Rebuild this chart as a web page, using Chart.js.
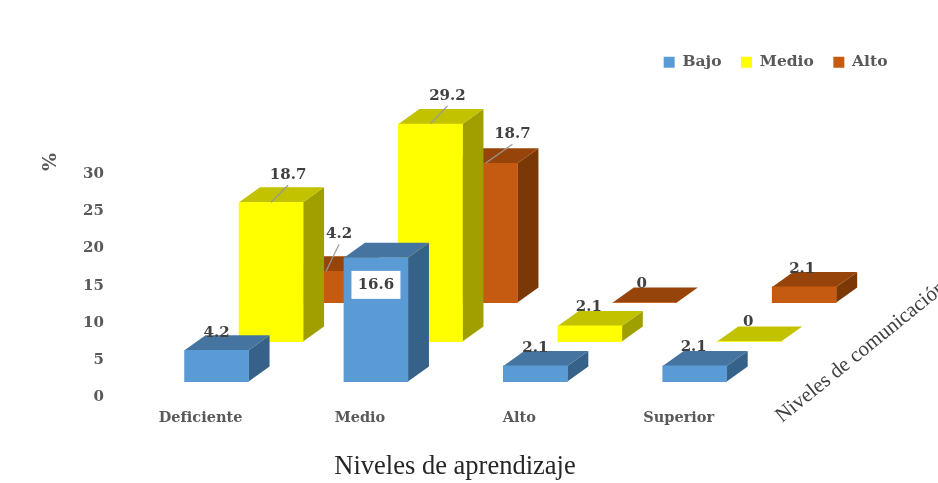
<!DOCTYPE html>
<html lang="es">
<head>
<meta charset="utf-8">
<title>Niveles de aprendizaje</title>
<style>
  html, body { margin: 0; background: #fff; }
  canvas { display: block; }
</style>
<script src="https://cdn.jsdelivr.net/npm/chart.js@4"></script>
</head>
<body>
<canvas id="chart" width="938" height="483"></canvas>
<script>
// Values per learning level and communication level
const categories = ['Deficiente', 'Medio', 'Alto', 'Superior'];
const bajo = [4.2, 16.6, 2.1, 2.1];
const medio = [18.7, 29.2, 2.1, 0];
const alto = [4.2, 18.7, 0, 2.1];
const yTicks = [0, 5, 10, 15, 20, 25, 30];

// Shading of each row: front, top and side faces
const faces = [
  { front: '#5B9BD5', top: '#44749F', side: '#36628A' },
  { front: '#FFFF00', top: '#C2C200', side: '#9F9F00' },
  { front: '#C55A11', top: '#964409', side: '#7B3807' }
];

// Perspective: each series sits on its own row behind the previous one
const rowShift = [[16, -16], [70.5, -56], [125.5, -95]];
const depth = { x: 21, y: -15 };

// Value label placement relative to the top-front centre of a bar
const labelPlacement = [
  [{ dx: 0, dy: -17 }, { dx: 0, dy: 27, boxed: true }, { dx: 0, dy: -18 }, { dx: -1, dy: -19 }],
  [{ dx: 17, dy: -27, leader: true }, { dx: 17, dy: -28, leader: true }, { dx: -1, dy: -19 }, { dx: -1, dy: -19 }],
  [{ dx: 13, dy: -37, leader: true }, { dx: 27, dy: -29, leader: true }, { dx: -3, dy: -18 }, { dx: -2, dy: -18 }]
];

const SERIF_BOLD = 'bold 15px "DejaVu Serif"';
const TEXT_DARK = '#404040';

// Adds the receding faces to every bar and moves each series to its row
const bars3d = {
  id: 'bars3d',
  beforeDatasetDraw(chart, args) {
    const ctx = chart.ctx;
    const shift = rowShift[args.index];
    const shade = faces[args.index];
    ctx.save();
    ctx.translate(shift[0], shift[1]);
    args.meta.data.forEach((bar) => {
      const left = bar.x - bar.width / 2;
      const right = bar.x + bar.width / 2;
      ctx.fillStyle = shade.side;
      ctx.beginPath();
      ctx.moveTo(right, bar.y);
      ctx.lineTo(right + depth.x, bar.y + depth.y);
      ctx.lineTo(right + depth.x, bar.base + depth.y);
      ctx.lineTo(right, bar.base);
      ctx.closePath();
      ctx.fill();
      ctx.fillStyle = shade.top;
      ctx.beginPath();
      ctx.moveTo(left, bar.y);
      ctx.lineTo(left + depth.x, bar.y + depth.y);
      ctx.lineTo(right + depth.x, bar.y + depth.y);
      ctx.lineTo(right, bar.y);
      ctx.closePath();
      ctx.fill();
    });
  },
  afterDatasetDraw(chart) {
    chart.ctx.restore();
  }
};

// Value labels, with a leader line or a white box where needed
const valueLabels = {
  id: 'valueLabels',
  afterDatasetsDraw(chart) {
    const ctx = chart.ctx;
    ctx.save();
    ctx.font = SERIF_BOLD;
    ctx.textAlign = 'center';
    ctx.textBaseline = 'middle';
    chart.data.datasets.forEach((dataset, d) => {
      chart.getDatasetMeta(d).data.forEach((bar, i) => {
        const place = labelPlacement[d][i];
        const baseX = bar.x + rowShift[d][0];
        const baseY = bar.y + rowShift[d][1];
        const x = baseX + place.dx;
        const y = baseY + place.dy;
        if (place.leader) {
          ctx.strokeStyle = '#999999';
          ctx.lineWidth = 1.2;
          ctx.beginPath();
          ctx.moveTo(baseX, baseY);
          ctx.lineTo(x, y + 10);
          ctx.stroke();
        }
        if (place.boxed) {
          ctx.fillStyle = '#FFFFFF';
          ctx.fillRect(x - 24.5, y - 14, 49, 28);
        }
        ctx.fillStyle = TEXT_DARK;
        ctx.fillText(String(dataset.data[i]), x, y);
      });
    });
    ctx.restore();
  }
};

// Axis captions and legend placement
const captions = {
  id: 'captions',
  afterLayout(chart) {
    chart.legend.top = 35;
    chart.legend.right = 907;
  },
  afterDraw(chart) {
    const ctx = chart.ctx;
    ctx.save();
    ctx.textBaseline = 'middle';
    ctx.textAlign = 'center';

    ctx.fillStyle = '#262626';
    ctx.font = '26.5px "Liberation Serif"';
    ctx.fillText('Niveles de aprendizaje', 455, 467);

    ctx.save();
    ctx.translate(51, 162);
    ctx.rotate(-Math.PI / 2);
    ctx.fillStyle = '#595959';
    ctx.font = 'bold 19px "DejaVu Serif"';
    ctx.fillText('%', 0, 0);
    ctx.restore();

    ctx.save();
    ctx.translate(782, 423);
    ctx.rotate(-39 * Math.PI / 180);
    ctx.textAlign = 'left';
    ctx.textBaseline = 'alphabetic';
    ctx.fillStyle = TEXT_DARK;
    ctx.font = '21px "Liberation Serif"';
    ctx.fillText('Niveles de comunicación', 0, 0);
    ctx.restore();
    ctx.restore();
  }
};

const makeSeries = (label, data, row) => ({
  label,
  data,
  backgroundColor: faces[row].front,
  borderWidth: 0,
  barThickness: 64,
  grouped: false,
  clip: false
});

new Chart(document.getElementById('chart'), {
  type: 'bar',
  data: {
    labels: categories,
    datasets: [makeSeries('Bajo', bajo, 0), makeSeries('Medio', medio, 1), makeSeries('Alto', alto, 2)]
  },
  plugins: [bars3d, valueLabels, captions],
  options: {
    responsive: false,
    animation: false,
    layout: { padding: { left: 74, right: 179.6, top: 129, bottom: 52 } },
    scales: {
      x: {
        grid: { display: false },
        border: { display: false },
        ticks: {
          color: '#595959',
          font: { family: 'DejaVu Serif', weight: 'bold', size: 14.5 },
          padding: 4,
          maxRotation: 0,
          autoSkip: false
        }
      },
      y: {
        min: yTicks[0],
        max: yTicks[yTicks.length - 1],
        afterBuildTicks(scale) {
          scale.ticks = yTicks.map((value) => ({ value }));
        },
        grid: { display: false },
        border: { display: false },
        ticks: {
          color: '#595959',
          font: { family: 'DejaVu Serif', weight: 'bold', size: 15 },
          padding: 9
        }
      }
    },
    plugins: {
      tooltip: { enabled: false },
      legend: {
        position: 'top',
        align: 'end',
        labels: {
          boxWidth: 11,
          boxHeight: 11,
          padding: 19.5,
          color: '#595959',
          font: { family: 'DejaVu Serif', weight: 'bold', size: 15.5 }
        }
      }
    }
  }
});
</script>
</body>
</html>
